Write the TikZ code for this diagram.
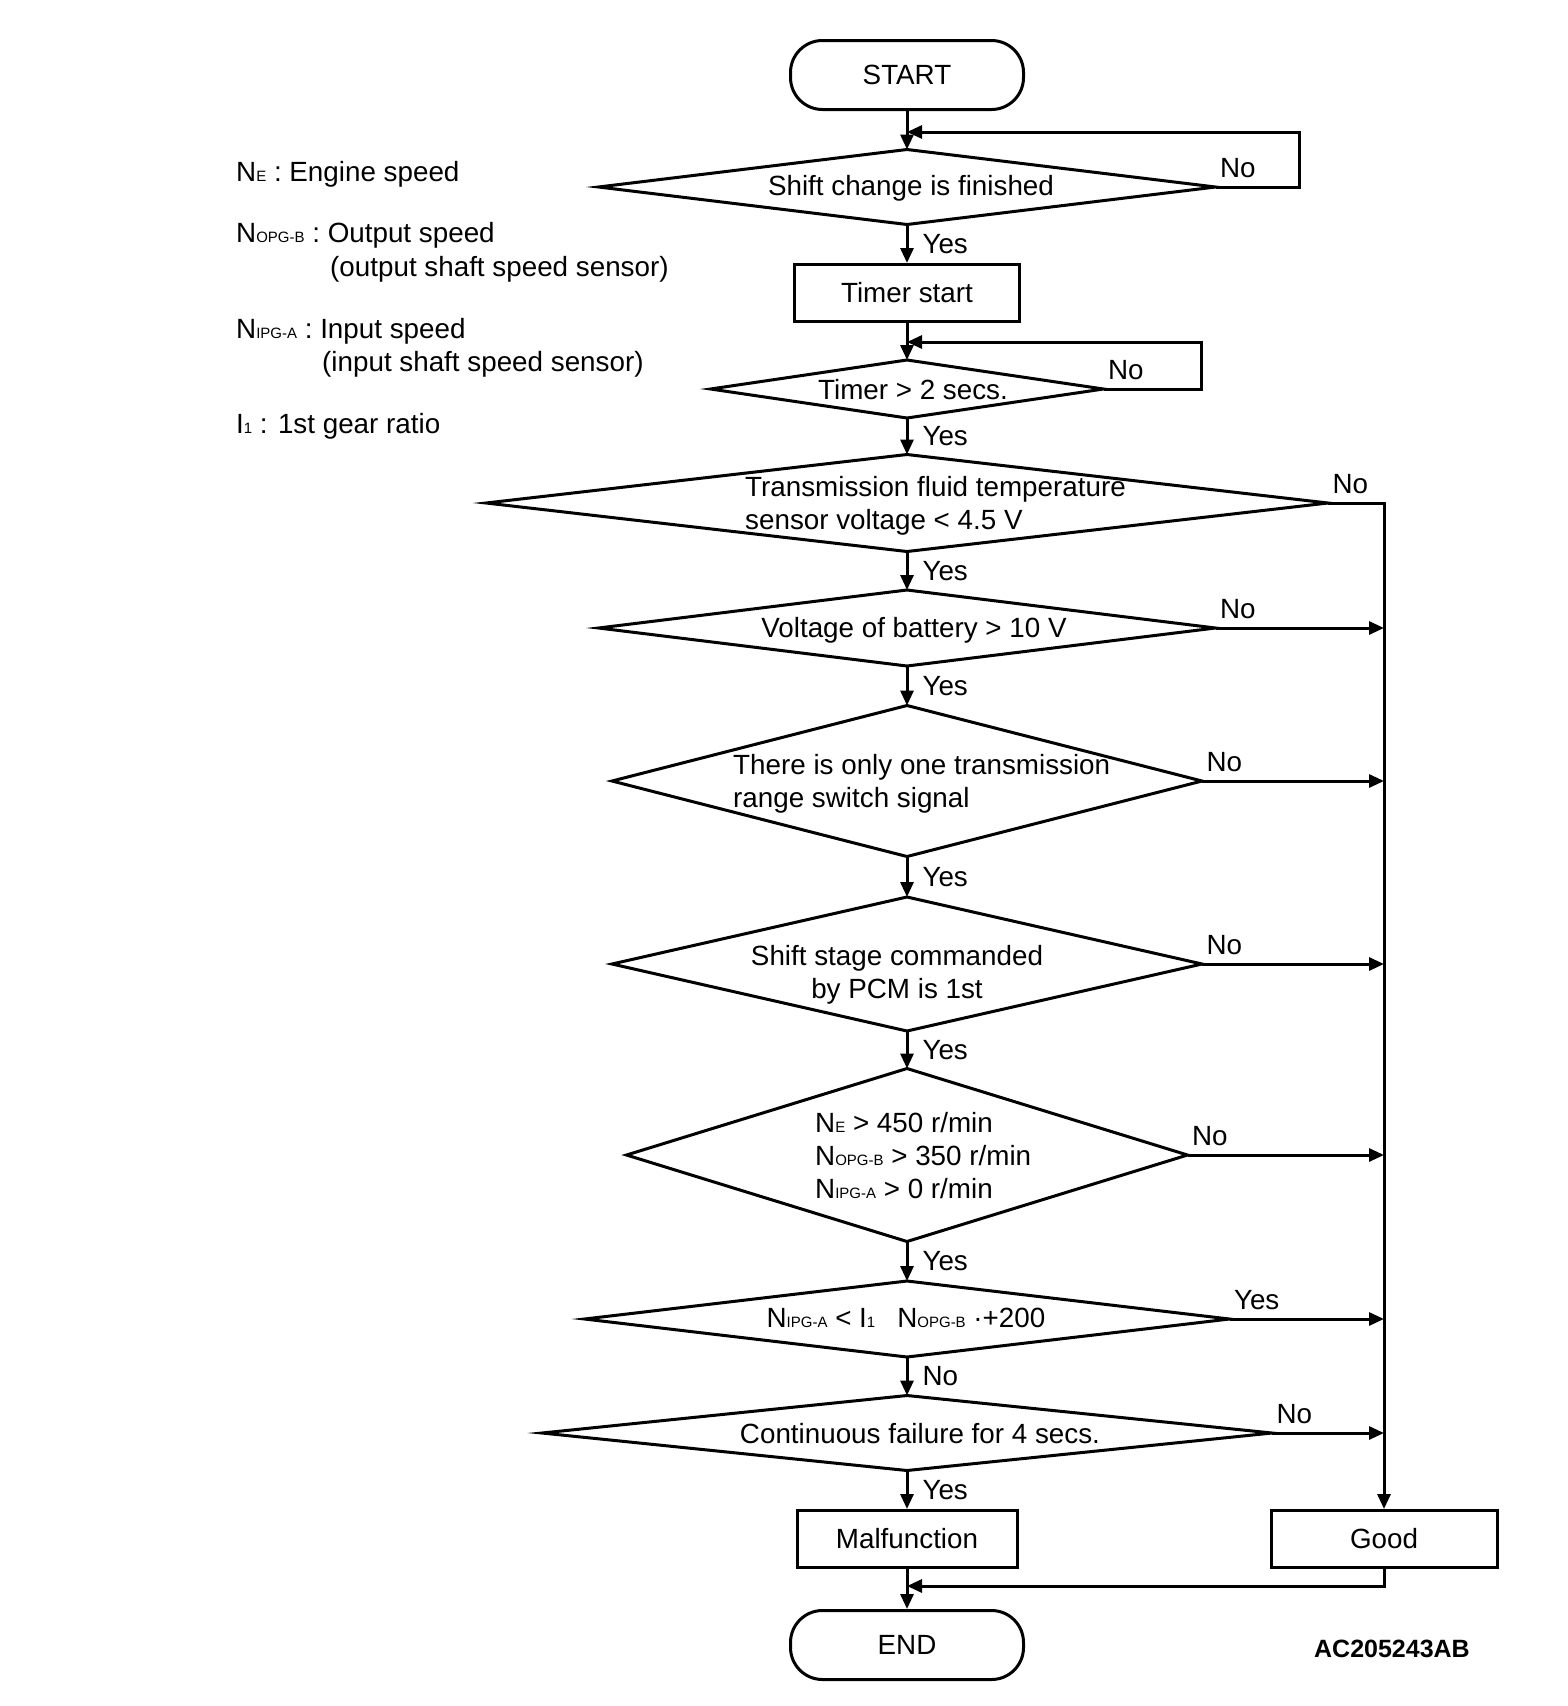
\documentclass[tikz,border=0pt]{standalone}
\usepackage{fontspec}
\setmainfont{Liberation Sans}
\usetikzlibrary{shapes.geometric,arrows.meta,positioning}
\newcommand{\subidx}[1]{{\fontsize{15}{15}\selectfont #1}}
\tikzset{
  base/.style={line width=3pt},
  arr/.style={base, -{Triangle[length=15pt,width=13pt]}},
  terminal/.style={draw, base, rounded corners=32pt, minimum width=233pt, minimum height=69pt, inner sep=0pt},
  procbox/.style={draw, base, minimum height=57pt, inner sep=0pt},
  decision/.style={draw, base, diamond, inner sep=0pt, outer sep=0pt},
  txt/.style={inner sep=0pt},
  yeslbl/.style={txt, right=14pt, midway},
  nolbl/.style={txt, anchor=south west, pos=0, xshift=3pt, yshift=8pt},
}

\begin{document}
\begin{tikzpicture}[x=1pt, y=-1pt, font=\fontsize{27.8}{33}\selectfont]
        \useasboundingbox (0,0) rectangle (1568,1706);
        % legend
        \node[txt, anchor=west] (lne) at (236,174) {N\subidx{E} : Engine speed};
        \node[txt, anchor=west] (lopg) at (236,235) {N\subidx{OPG-B} : Output speed};
        \node[txt, anchor=west] (lopg2) at (330,269) {(output shaft speed sensor)};
        \node[txt, anchor=west] (lipg) at (236,331) {N\subidx{IPG-A} : Input speed};
        \node[txt, anchor=west] (lipg2) at (322,364) {(input shaft speed sensor)};
        \node[txt, anchor=west] (lgear) at (236,426) {I\subidx{1} : 1st gear ratio};
        % terminals and boxes
        \node[terminal] (start) at (907,75) {START};
        \node[procbox, minimum width=225pt] (timer) at (907,293) {Timer start};
        \node[procbox, minimum width=220pt] (malf) at (907,1539) {Malfunction};
        \node[procbox, minimum width=226pt] (good) at (1384,1539) {Good};
        \node[terminal] (end) at (907,1645) {END};
        % decisions
        \node[decision, minimum width=617pt, minimum height=75pt] (d1) at (907,187) {};
        \node[decision, minimum width=393pt, minimum height=58pt] (d2) at (907,389) {};
        \node[decision, minimum width=842pt, minimum height=97pt] (d3) at (907,503) {};
        \node[decision, minimum width=617pt, minimum height=76pt] (d4) at (907,628) {};
        \node[decision, minimum width=590pt, minimum height=151pt] (d5) at (907,781) {};
        \node[decision, minimum width=590pt, minimum height=134pt] (d6) at (907,964) {};
        \node[decision, minimum width=561pt, minimum height=173pt] (d7) at (907,1155) {};
        \node[decision, minimum width=645pt, minimum height=76pt] (d8) at (907,1319) {};
        \node[decision, minimum width=730pt, minimum height=75pt] (d9) at (907,1433) {};
        % decision texts
        \node[txt] (t1) at (911,188) {Shift change is finished};
        \node[txt] (t2) at (913,390) {Timer > 2 secs.};
        \node[txt, align=left, anchor=west] (t3) at (745,506) {Transmission fluid temperature\\sensor voltage < 4.5 V};
        \node[txt] (t4) at (914,630) {Voltage of battery > 10 V};
        \node[txt, align=left, anchor=west] (t5) at (733,784) {There is only one transmission\\range switch signal};
        \node[txt, align=center] (t6) at (897,975) {Shift stage commanded\\by PCM is 1st};
        \node[txt, align=left, anchor=west] (t7) at (815,1156) {N\subidx{E} > 450 r/min\\N\subidx{OPG-B} > 350 r/min\\N\subidx{IPG-A} > 0 r/min};
        \node[txt] (t8) at (906,1318) {N\subidx{IPG-A} < I\subidx{1}\hspace{22pt}N\subidx{OPG-B} ·+200};
        \node[txt] (t9) at (920,1434) {Continuous failure for 4 secs.};
        \node[inner sep=0pt, font=\bfseries\fontsize{25}{25}\selectfont] (code) at (1392,1649) {AC205243AB};
        % joints
        \coordinate (l1) at (907,132);
        \coordinate (l2) at (907,342);
        \coordinate (join) at (907,1586);
        % main flow
        \draw[arr] (start) -- (d1);
        \draw[arr] (d1) -- node[yeslbl] {Yes} (timer);
        \draw[arr] (timer) -- (d2);
        \draw[arr] (d2) -- node[yeslbl] {Yes} (d3);
        \draw[arr] (d3) -- node[yeslbl] {Yes} (d4);
        \draw[arr] (d4) -- node[yeslbl] {Yes} (d5);
        \draw[arr] (d5) -- node[yeslbl] {Yes} (d6);
        \draw[arr] (d6) -- node[yeslbl] {Yes} (d7);
        \draw[arr] (d7) -- node[yeslbl] {Yes} (d8);
        \draw[arr] (d8) -- node[yeslbl] {No} (d9);
        \draw[arr] (d9) -- node[yeslbl] {Yes} (malf);
        \draw[arr] (malf) -- (end);
        % loops
        \draw[arr] (d1.east) -- node[nolbl] {No} ++(84,0) |- (l1);
        \draw[arr] (d2.east) -- node[nolbl] {No} ++(98,0) |- (l2);
        % branches to good
        \draw[arr] (d3.east) -| node[nolbl] {No} (good.north);
        \draw[arr] (d4.east) -- node[nolbl] {No} (d4.east -| good.north);
        \draw[arr] (d5.east) -- node[nolbl] {No} (d5.east -| good.north);
        \draw[arr] (d6.east) -- node[nolbl] {No} (d6.east -| good.north);
        \draw[arr] (d7.east) -- node[nolbl] {No} (d7.east -| good.north);
        \draw[arr] (d8.east) -- node[nolbl] {Yes} (d8.east -| good.north);
        \draw[arr] (d9.east) -- node[nolbl] {No} (d9.east -| good.north);
        \draw[arr] (good.south) |- (join);
    \end{tikzpicture}
\end{document}
